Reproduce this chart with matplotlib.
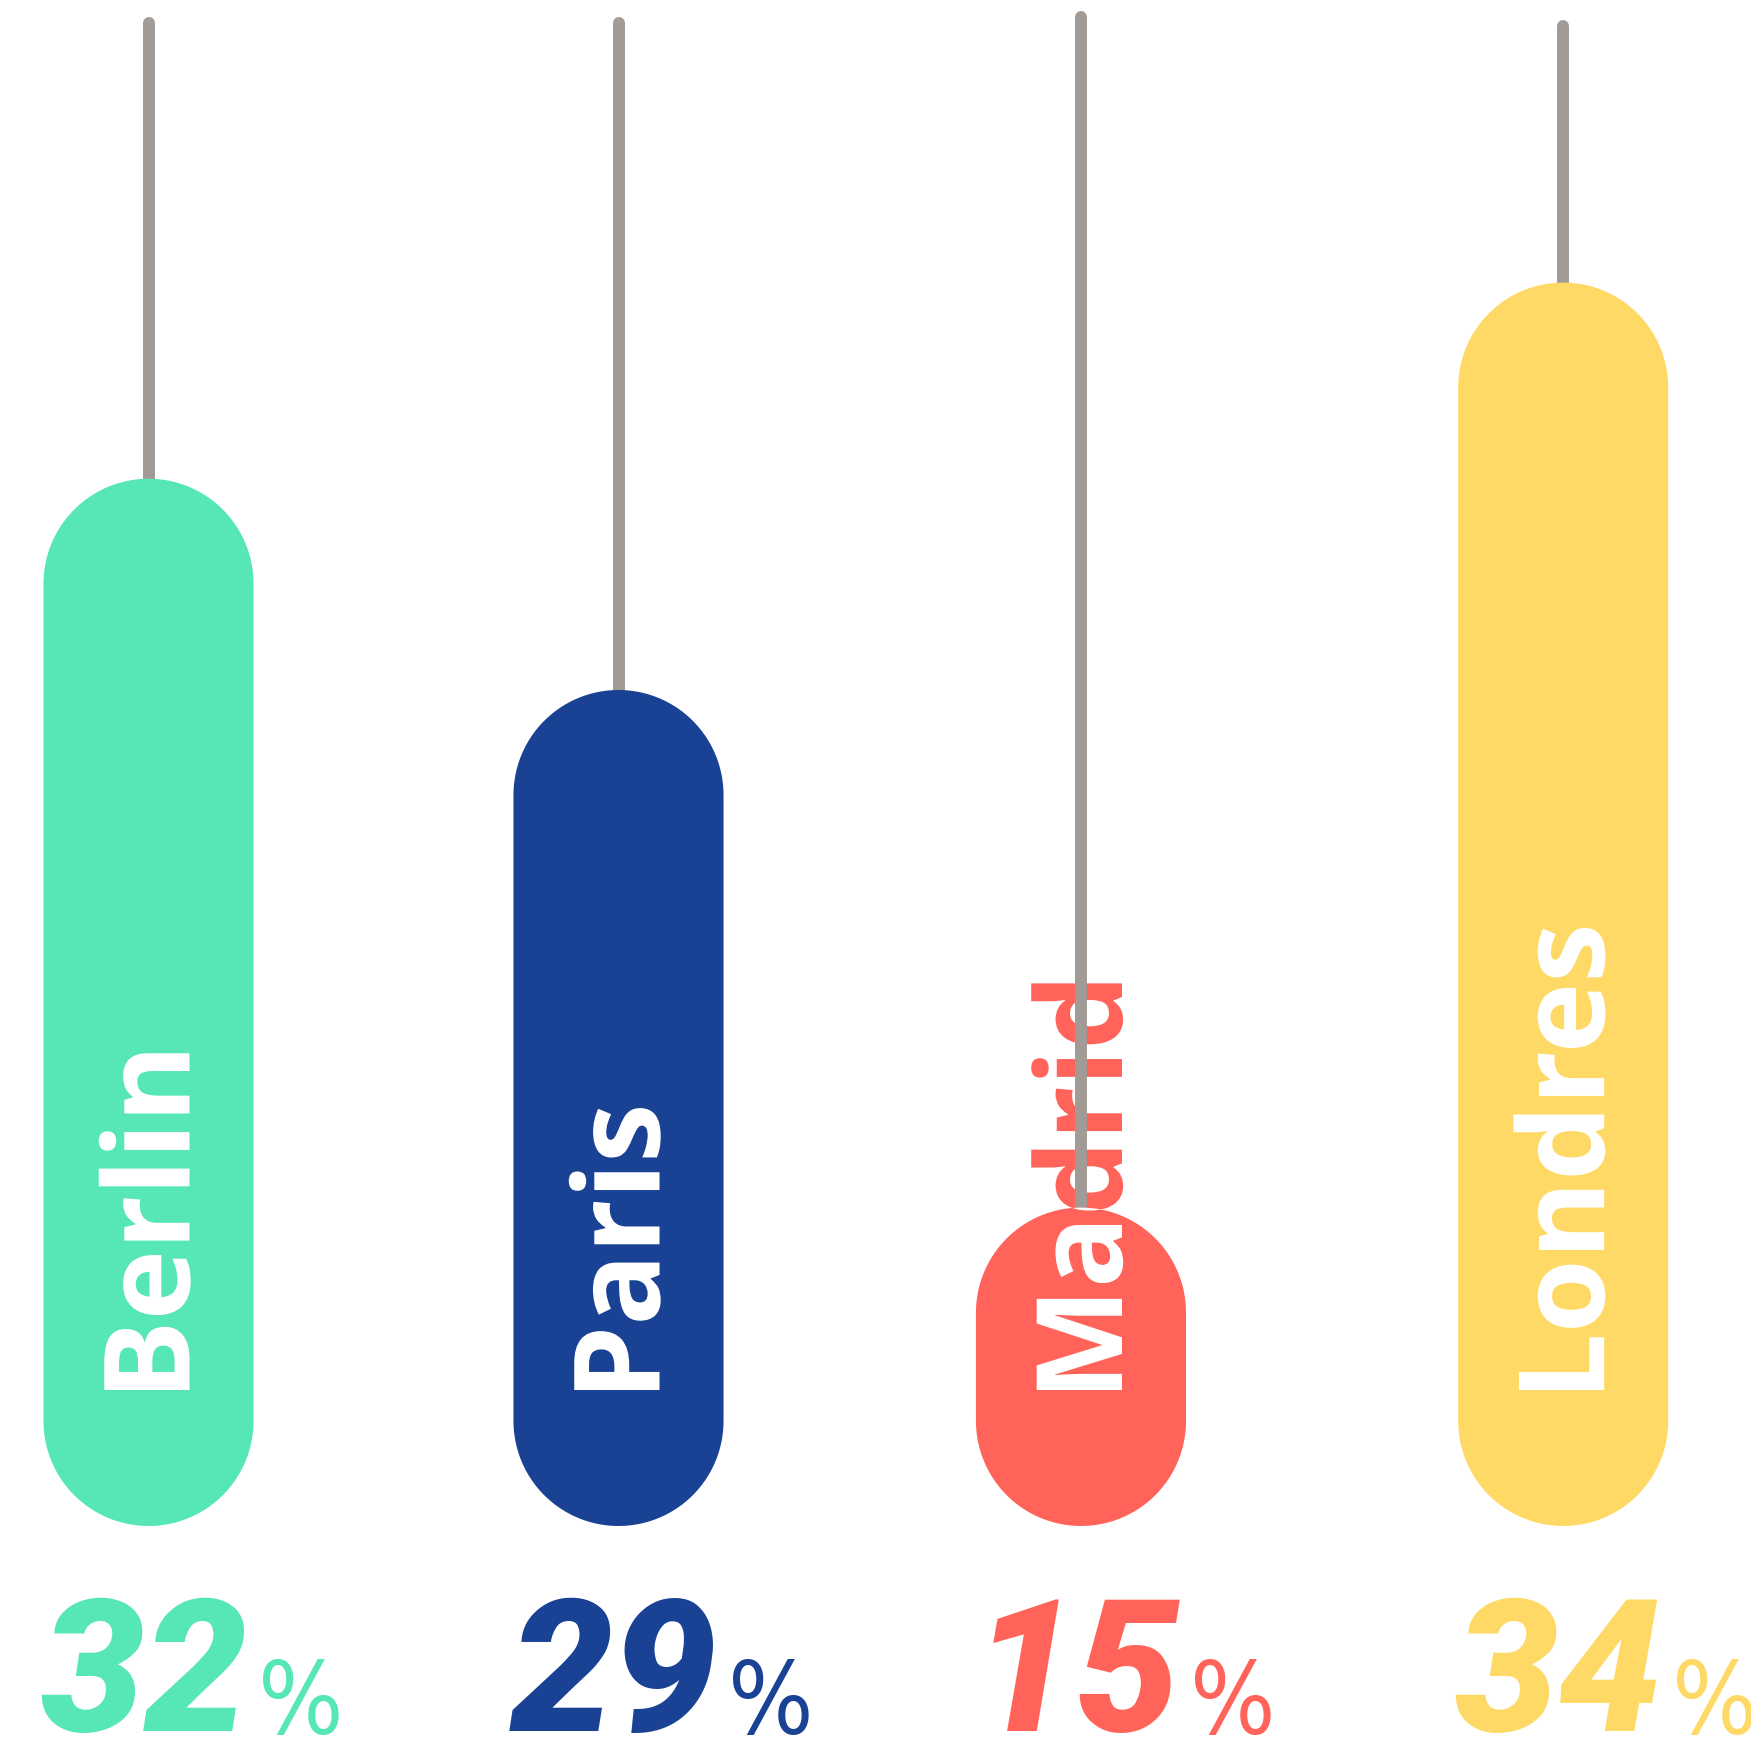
import matplotlib
matplotlib.use("Agg")
import numpy as np
import matplotlib.pyplot as plt
from matplotlib.patches import Polygon
from matplotlib import transforms
import matplotlib.patheffects as pe


# Data
cities = ["Berlin", "Paris", "Madrid", "Londres"]
shares = [32, 29, 15, 34]
bar_heights = [69.4, 55.4, 21.1, 82.4]
line_tops = [99.6, 99.6, 100.0, 99.4]

colors = ["#57E6B5", "#194295", "#FF6359", "#FFD965"]
line_color = "#A29A94"

# slot of each column on the x axis
slots = [0, 1, 1.984, 3.01]


W, H, DPI = 17.51, 17.40, 100
fig = plt.figure(figsize=(W, H), dpi=DPI)
ax = fig.add_axes([0, 0, 1, 1])
ax.set_xlim(-0.316, 3.4096)
ax.set_ylim(-14.115, 101.19)
ax.axis("off")

# aspect so the rounded ends are real semicircles
x0, x1 = ax.get_xlim()
y0, y1 = ax.get_ylim()
px_x = W * DPI / (x1 - x0)
px_y = H * DPI / (y1 - y0)
asp = px_x / px_y

bar_w = 0.447
label_y = 8.3


def pill(xc, h, w):
    # stadium outline: semicircle top and bottom
    rx = w / 2
    ry = rx * asp
    t_top = np.linspace(0, np.pi, 80)
    t_bot = np.linspace(np.pi, 2 * np.pi, 80)
    top = np.column_stack([xc + rx * np.cos(t_top), h - ry + ry * np.sin(t_top)])
    bot = np.column_stack([xc + rx * np.cos(t_bot), ry + ry * np.sin(t_bot)])
    return np.vstack([top, bot])


base_off = transforms.offset_copy(ax.transData, fig=fig, x=41, y=0, units="dots")

for i, city in enumerate(cities):
    xc = slots[i]

    # thin stem
    ax.plot([xc, xc], [bar_heights[i] / 2, line_tops[i]], color=line_color,
            lw=8.6, solid_capstyle="round", zorder=2)

    # rounded bar
    bar = Polygon(pill(xc, bar_heights[i], bar_w), closed=True,
                  facecolor=colors[i], edgecolor="none", zorder=3)
    ax.add_patch(bar)

    # label: coloured outside the bar, white inside
    kw = dict(rotation=90, rotation_mode="anchor", ha="left", va="baseline",
              fontsize=86, fontweight="bold", family="Open Sans",
              transform=base_off, path_effects=[pe.Normal()])
    ax.text(xc, label_y, city, color=colors[i], zorder=1, **kw)
    t = ax.text(xc, label_y, city, color="white", zorder=4, clip_on=True, **kw)
    t.set_clip_path(bar)

    # percentages at the bottom
    num_tr = transforms.offset_copy(ax.get_xaxis_transform(), fig=fig,
                                    x=99, y=9, units="dots")
    pct_tr = transforms.offset_copy(ax.get_xaxis_transform(), fig=fig,
                                    x=109, y=6, units="dots")
    ax.text(xc, 0, str(shares[i]), transform=num_tr, ha="right", va="baseline",
            fontsize=133, fontweight=900, fontstyle="italic",
            family="Roboto", color=colors[i])
    ax.text(xc, 0, "%", transform=pct_tr, ha="left", va="baseline",
            fontsize=72, family="DejaVu Sans", fontstretch="condensed",
            color=colors[i])

fig.savefig("out.png", dpi=DPI)
